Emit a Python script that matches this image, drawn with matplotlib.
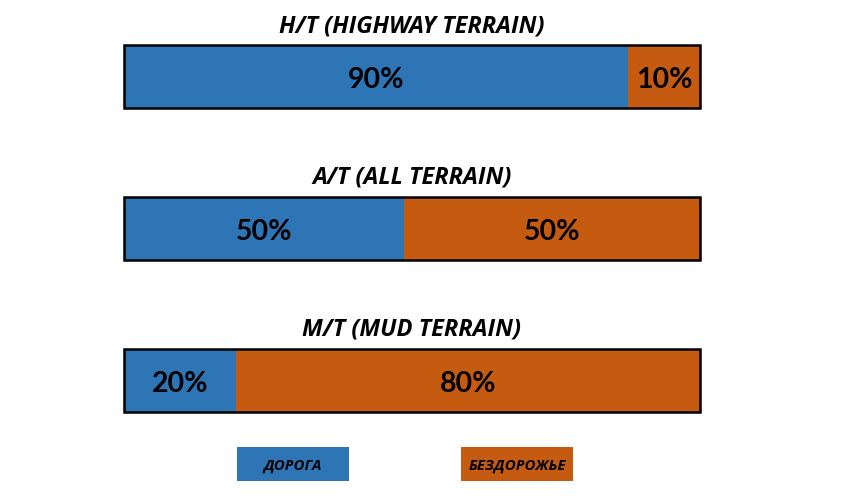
import matplotlib.pyplot as plt
from matplotlib.patches import Rectangle

titles = ['H/T (HIGHWAY TERRAIN)', 'A/T (ALL TERRAIN)', 'M/T (MUD TERRAIN)']
road = [90, 50, 20]
offroad = [10, 50, 80]
legend_labels = ['ДОРОГА', 'БЕЗДОРОЖЬЕ']

blue = '#2E75B6'
orange = '#C55A11'
font = 'Lato'
title_font = 'Open Sans'

fig = plt.figure(figsize=(8.67, 5.01), dpi=100)
W, H = 867, 501
# axes spans bar area: x 124..700 px, y 45..412 px
ax = fig.add_axes([124 / W, 1 - 412 / H, 576 / W, 367 / H])
bh = 0.415
frame_end = 102.86  # the bar frame runs a little past 100 in the original
ypos = list(range(len(titles)))

ax.barh(ypos, road, height=bh, color=blue, edgecolor='none')
ax.barh(ypos, [frame_end - r for r in road], left=road, height=bh,
        color=orange, edgecolor='none')

for i in ypos:
    # outline around whole bar
    ax.add_patch(Rectangle((0, i - bh / 2), frame_end, bh, fill=False,
                           edgecolor='black', linewidth=1.8, clip_on=False, zorder=3))
    ax.text(road[i] / 2, i + 0.022, f'{road[i]}%', ha='center', va='center',
            fontsize=20.5, fontweight='bold', family=font, color='black')
    ax.text((road[i] + frame_end) / 2, i + 0.022, f'{offroad[i]}%', ha='center',
            va='center', fontsize=20.5, fontweight='bold', family=font, color='black')
    ax.text(frame_end / 2, i - bh / 2 - 0.125, titles[i], ha='center', va='center',
            fontsize=17, fontweight='bold', style='italic', family=title_font)

ax.set_xlim(0, frame_end)
ax.set_ylim(2 + bh / 2, -bh / 2)
ax.axis('off')

# legend boxes (figure pixels)
for (x0, col, lab) in [(237, blue, legend_labels[0]), (461, orange, legend_labels[1])]:
    fig.patches.append(Rectangle((x0 / W, 1 - 481 / H), 112 / W, 34 / H,
                                 transform=fig.transFigure, facecolor=col,
                                 edgecolor='none'))
    fig.text((x0 + 56) / W, 1 - 466 / H, lab, ha='center', va='center',
             fontsize=10.8, fontweight='bold', style='italic', family=title_font)

fig.savefig('out.png', dpi=100)
